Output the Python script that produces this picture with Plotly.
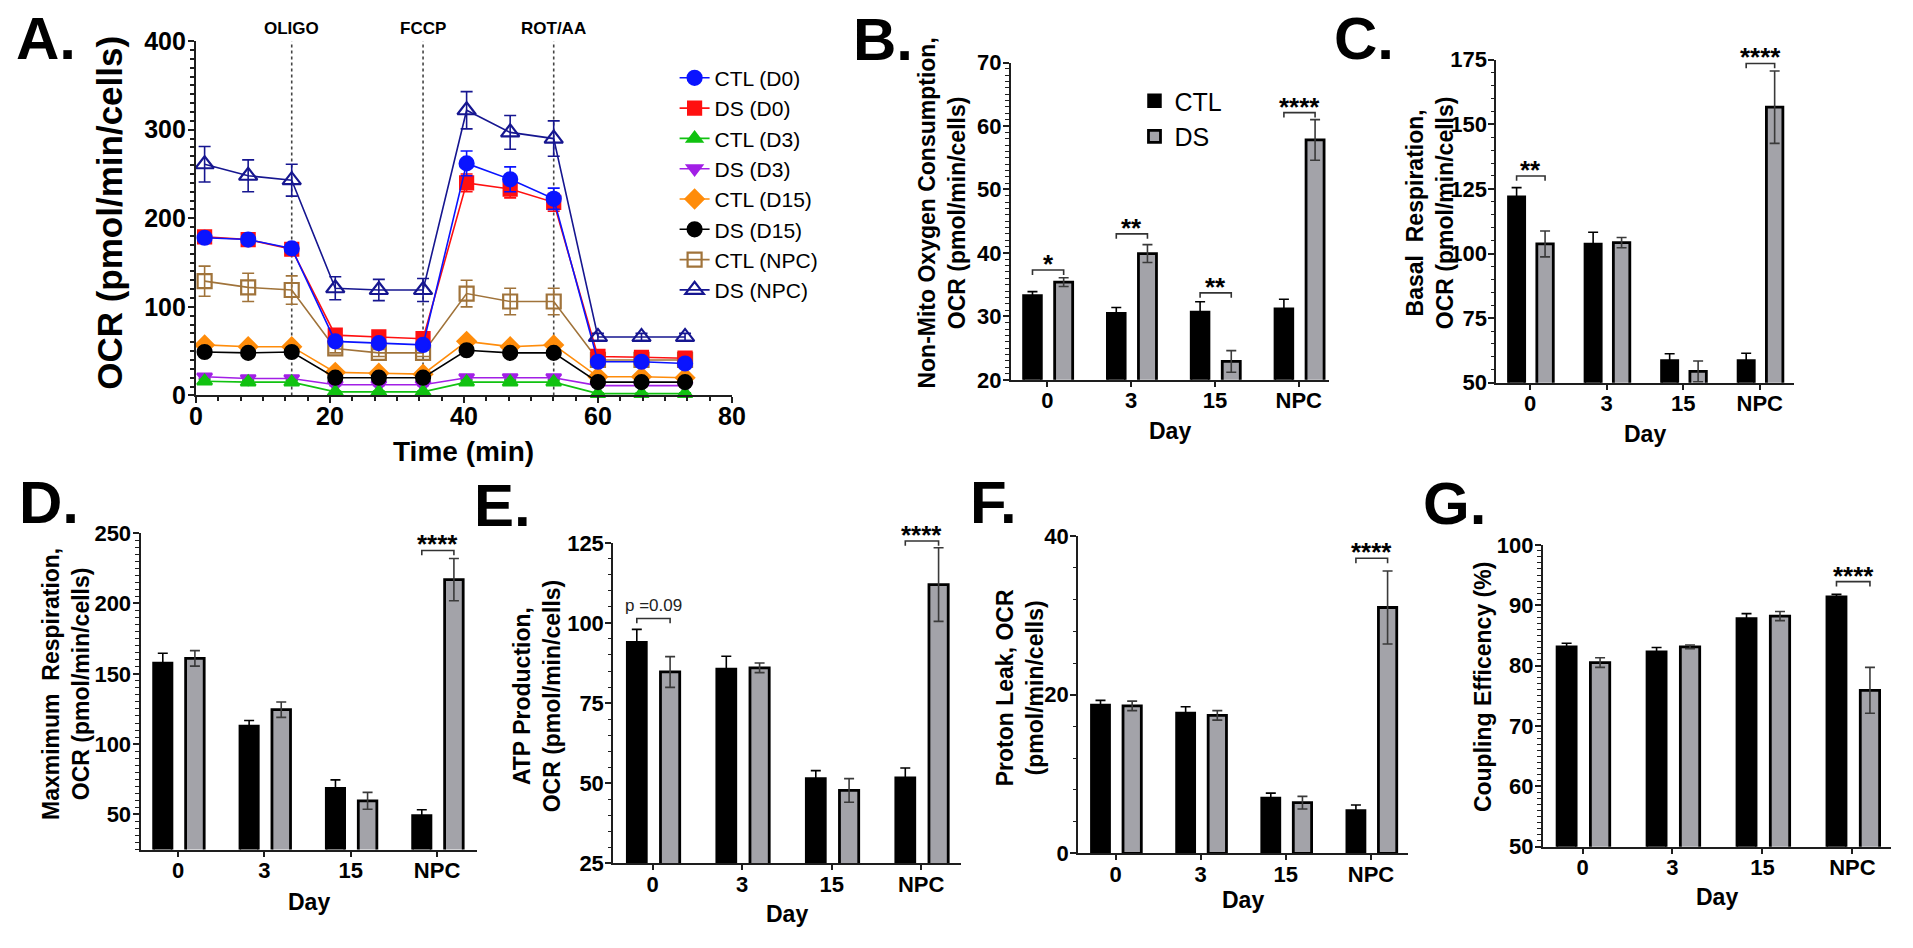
import plotly.graph_objects as go

W, H = 1913, 948
FONT = "Liberation Sans, Arial, sans-serif"

# ---------------- Panel A data (OCR time course) ----------------
time_min = [1.3, 7.8, 14.3, 20.8, 27.3, 33.9, 40.4, 46.9, 53.4, 60.0, 66.5, 73.0]
ctl_d0 = [178, 176, 166, 61, 59, 57, 262, 244, 222, 38, 38, 36]
ctl_d0_err = [4, 4, 5, 4, 3, 3, 14, 14, 12, 3, 3, 3]
ds_d0 = [179, 176, 165, 68, 66, 64, 240, 233, 218, 44, 43, 42]
ds_d0_err = [4, 4, 4, 4, 3, 3, 10, 10, 10, 3, 3, 3]
ctl_d3 = [16, 15, 15, 4, 4, 4, 15, 15, 15, 2, 2, 2]
ctl_d3_err = [2, 2, 2, 1, 1, 1, 2, 2, 2, 1, 1, 1]
ds_d3 = [21, 19, 19, 12, 12, 12, 20, 20, 20, 11, 11, 11]
ds_d3_err = [2, 2, 2, 1, 1, 1, 2, 2, 2, 1, 1, 1]
ctl_d15 = [57, 55, 55, 26, 25, 24, 61, 55, 57, 21, 21, 20]
ctl_d15_err = [3, 3, 3, 2, 2, 2, 3, 3, 3, 2, 2, 2]
ds_d15 = [49, 48, 49, 20, 20, 20, 51, 48, 48, 15, 15, 15]
ds_d15_err = [3, 3, 3, 2, 2, 2, 3, 3, 3, 2, 2, 2]
ctl_npc = [129, 122, 119, 53, 48, 48, 115, 106, 106, 40, 40, 40]
ctl_npc_err = [17, 16, 16, 5, 4, 4, 15, 15, 15, 3, 3, 3]
ds_npc = [261, 248, 243, 121, 119, 119, 322, 297, 290, 66, 66, 66]
ds_npc_err = [20, 18, 18, 13, 12, 13, 21, 19, 20, 4, 4, 4]

injection_times = [14.3, 33.9, 53.4]
injection_labels = ["OLIGO", "FCCP", "ROT/AA"]

# ---------------- Bar panel data ----------------
days = ["0", "3", "15", "NPC"]

nonmito_ctl = [33.3, 30.5, 30.7, 31.2]
nonmito_ctl_err = [0.6, 0.9, 1.6, 1.5]
nonmito_ds = [35.4, 39.9, 22.9, 57.8]
nonmito_ds_err = [0.7, 1.4, 1.7, 3.2]
nonmito_sig_idx = [0, 1, 2, 3]
nonmito_sig_text = ["*", "**", "**", "****"]
nonmito_sig_y = [37.3, 43.0, 33.7, 62.1]

basal_ctl = [122.0, 103.7, 58.6, 58.6]
basal_ctl_err = [3.5, 4.5, 2.6, 2.8]
basal_ds = [103.7, 104.2, 54.4, 156.6]
basal_ds_err = [5.0, 2.0, 4.0, 14.0]
basal_sig_idx = [0, 3]
basal_sig_text = ["**", "****"]
basal_sig_y = [130.0, 173.5]

maxresp_ctl = [157.6, 112.8, 68.6, 49.3]
maxresp_ctl_err = [7.0, 4.0, 6.0, 4.0]
maxresp_ds = [161.0, 124.5, 59.7, 217.0]
maxresp_ds_err = [5.5, 5.5, 6.0, 15.0]
maxresp_sig_idx = [3]
maxresp_sig_text = ["****"]
maxresp_sig_y = [237.7]

atp_ctl = [94.0, 85.6, 51.4, 51.7]
atp_ctl_err = [4.0, 4.0, 2.5, 3.0]
atp_ds = [84.7, 86.0, 47.7, 112.0]
atp_ds_err = [4.8, 1.5, 3.7, 11.5]
atp_sig_idx = [0, 3]
atp_sig_text = ["p =0.09", "****"]
atp_sig_y = [101.4, 125.6]

leak_ctl = [18.7, 17.7, 7.0, 5.4]
leak_ctl_err = [0.6, 0.8, 0.6, 0.7]
leak_ds = [18.6, 17.4, 6.4, 31.0]
leak_ds_err = [0.6, 0.6, 0.8, 4.6]
leak_sig_idx = [3]
leak_sig_text = ["****"]
leak_sig_y = [37.2]

coupling_ctl = [83.1, 82.3, 87.8, 91.4]
coupling_ctl_err = [0.6, 0.7, 0.8, 0.4]
coupling_ds = [80.5, 83.1, 88.2, 75.9]
coupling_ds_err = [0.8, 0.3, 0.75, 3.8]
coupling_sig_idx = [3]
coupling_sig_text = ["****"]
coupling_sig_y = [93.9]

# ---------------- helpers ----------------
def dx(x0, x1):
    return [x0 / W, x1 / W]


def dy(top, bot):
    return [1 - bot / H, 1 - top / H]


def paper_text(x, y, text, size, bold=True, angle=0, xanchor="center", yanchor="middle", color="black"):
    f = dict(family=FONT, size=size, color=color)
    if bold:
        f["weight"] = "bold"
    return dict(x=x / W, y=1 - y / H, xref="paper", yref="paper", text=text, textangle=angle,
                showarrow=False, xanchor=xanchor, yanchor=yanchor, font=f)


AXLINE = "#1e1e1e"
GRAY = "#a3a3a9"
BAR_W = 0.215
CTL_C = -0.177
DS_C = 0.195

fig = go.Figure()
annotations = []
shapes = []

# ---------------- Panel A ----------------
series = [
    ("DS (D3)", ds_d3, ds_d3_err, "#a21fe6", "triangle-down", 13, 4),
    ("CTL (D3)", ctl_d3, ctl_d3_err, "#11c211", "triangle-up", 13, 3),
    ("CTL (D15)", ctl_d15, ctl_d15_err, "#ff8c0a", "diamond", 14, 5),
    ("DS (D15)", ds_d15, ds_d15_err, "#000000", "circle", 14, 6),
    ("CTL (NPC)", ctl_npc, ctl_npc_err, "#a0733a", "square-open", 14, 7),
    ("DS (D0)", ds_d0, ds_d0_err, "#ff1010", "square", 13, 2),
    ("CTL (D0)", ctl_d0, ctl_d0_err, "#0a14ff", "circle", 14, 1),
    ("DS (NPC)", ds_npc, ds_npc_err, "#161690", "triangle-up-open", 16, 8),
]
for name, vals, errs, col, sym, size, rank in series:
    fig.add_trace(go.Scatter(
        x=time_min, y=vals, name=name, mode="lines+markers",
        line=dict(color=col, width=1.6),
        marker=dict(symbol=sym, size=size, color=col, line=dict(color=col, width=2.2)),
        error_y=dict(type="data", array=errs, color=col, thickness=1.6, width=6),
        cliponaxis=False, legend="legend", legendrank=rank,
        xaxis="x", yaxis="y",
    ))

for t, lab in zip(injection_times, injection_labels):
    shapes.append(dict(type="line", xref="x", yref="y", x0=t, x1=t, y0=0, y1=400,
                       line=dict(color="#444444", width=1.6, dash="dot"), layer="below"))
    annotations.append(dict(x=t, y=1 - 15 / H, xref="x", yref="paper", text=lab,
                            showarrow=False, xanchor="center", yanchor="middle",
                            font=dict(family=FONT, size=17, color="black", weight="bold")))

tickfont = dict(family=FONT, size=22, color="black", weight="bold")
tickfont_a = dict(family=FONT, size=25, color="black", weight="bold")
axis_common = dict(showline=True, linewidth=2, linecolor=AXLINE, showgrid=False,
                   zeroline=False, ticks="outside", tickcolor=AXLINE, tickwidth=2)

layout_axes = {}
layout_axes["xaxis"] = dict(domain=dx(191, 733), range=[0, 80], dtick=20, tick0=0,
                            ticklen=6, anchor="y", ticklabelstandoff=-8, tickfont=tickfont_a,
                            minor=dict(dtick=20 / 6, ticklen=4, tickcolor=AXLINE, ticks="outside", tickwidth=1.5),
                            **axis_common)
layout_axes["yaxis"] = dict(domain=dy(28, 393), range=[0, 400], dtick=100, tick0=0,
                            ticklen=6, anchor="x", ticklabelstandoff=-3, tickfont=tickfont_a,
                            minor=dict(dtick=10, ticklen=4, tickcolor=AXLINE, ticks="outside", tickwidth=1.5),
                            **axis_common)

annotations.append(paper_text(104, 205, "OCR (pmol/min/cells)", 35, angle=-90))
annotations.append(paper_text(462, 451, "Time (min)", 28))

# ---------------- Bar panels ----------------
panels = [
    dict(n=2, box=(1015, 1337, 50, 377), yr=[20, 70], dt=10, mn=1, xr=[-0.435, 3.365],
         ctl=nonmito_ctl, ctle=nonmito_ctl_err, ds=nonmito_ds, dse=nonmito_ds_err,
         si=nonmito_sig_idx, st=nonmito_sig_text, sy=nonmito_sig_y,
         title="Non-Mito Oxygen Consumption,<br>OCR (pmol/min/cells)", tc=(945, 205), dayy=430, leg=True),
    dict(n=3, box=(1506, 1807, 47, 380), yr=[50, 175], dt=25, mn=5, xr=[-0.44, 3.45],
         ctl=basal_ctl, ctle=basal_ctl_err, ds=basal_ds, dse=basal_ds_err,
         si=basal_sig_idx, st=basal_sig_text, sy=basal_sig_y,
         title="Basal  Respiration,<br>OCR (pmol/min/cells)", tc=(1439, 205), dayy=433, leg=False),
    dict(n=4, box=(135, 475, 535, 861), yr=[25, 250], dt=50, mn=5, xr=[-0.435, 3.46],
         ctl=maxresp_ctl, ctle=maxresp_ctl_err, ds=maxresp_ds, dse=maxresp_ds_err,
         si=maxresp_sig_idx, st=maxresp_sig_text, sy=maxresp_sig_y,
         title="Maxmimum  Respiration,<br>OCR (pmol/min/cells)", tc=(59, 690), dayy=915, leg=False),
    dict(n=5, box=(613, 965, 545, 875), yr=[25, 125], dt=25, mn=5, xr=[-0.44, 3.45],
         ctl=atp_ctl, ctle=atp_ctl_err, ds=atp_ds, dse=atp_ds_err,
         si=atp_sig_idx, st=atp_sig_text, sy=atp_sig_y,
         title="ATP Production,<br>OCR (pmol/min/cells)", tc=(536, 703), dayy=927, leg=False),
    dict(n=6, box=(1083, 1417, 538, 865), yr=[0, 40], dt=20, mn=4, xr=[-0.44, 3.44],
         ctl=leak_ctl, ctle=leak_ctl_err, ds=leak_ds, dse=leak_ds_err,
         si=leak_sig_idx, st=leak_sig_text, sy=leak_sig_y,
         title="Proton Leak, OCR<br>(pmol/min/cells)", tc=(1024, 694), dayy=913, leg=False),
    dict(n=7, box=(1553, 1905, 547, 858), yr=[50, 100], dt=10, mn=1, xr=[-0.44, 3.43],
         ctl=coupling_ctl, ctle=coupling_ctl_err, ds=coupling_ds, dse=coupling_ds_err,
         si=coupling_sig_idx, st=coupling_sig_text, sy=coupling_sig_y,
         title="Coupling Efficency (%)", tc=(1492, 694), dayy=910, leg=False),
]

x_idx = list(range(len(days)))

for p in panels:
    n = p["n"]
    xa, ya = f"x{n}", f"y{n}"
    x0, x1, top, bot = p["box"]
    fig.add_trace(go.Bar(
        x=x_idx, y=p["ctl"], width=BAR_W, offset=CTL_C - BAR_W / 2, name="CTL",
        marker=dict(color="black", line=dict(color="black", width=2.5)),
        error_y=dict(type="data", array=p["ctle"], color="black", thickness=1.6, width=5),
        xaxis=xa, yaxis=ya, showlegend=p["leg"], legend="legend2"))
    fig.add_trace(go.Bar(
        x=x_idx, y=p["ds"], width=BAR_W, offset=DS_C - BAR_W / 2, name="DS",
        marker=dict(color=GRAY, line=dict(color="black", width=2.8)),
        error_y=dict(type="data", array=p["dse"], color="#3a3a3a", thickness=1.6, width=5),
        xaxis=xa, yaxis=ya, showlegend=p["leg"], legend="legend2"))

    layout_axes[f"xaxis{n}"] = dict(domain=dx(x0, x1), range=p["xr"], tickvals=x_idx,
                                    ticktext=days, ticklen=5, anchor=ya, tickfont=tickfont,
                                    ticklabelstandoff=-5, **axis_common)
    layout_axes[f"yaxis{n}"] = dict(domain=dy(top, bot), range=p["yr"], dtick=p["dt"], tick0=0,
                                    ticklen=6, anchor=xa, tickfont=tickfont, ticklabelstandoff=-3,
                                    minor=dict(dtick=p["mn"], ticklen=3.5, tickcolor=AXLINE,
                                               ticks="outside", tickwidth=1.2),
                                    **axis_common)

    # significance brackets (y given in data units, converted to the axis domain so they are not clipped)
    r0, r1 = p["yr"]
    leg_dom = 5 / (bot - top)
    for i, txt, yv in zip(p["si"], p["st"], p["sy"]):
        yd = (yv - r0) / (r1 - r0)
        xl, xr_ = i + CTL_C, i + DS_C
        shapes.append(dict(type="path", xref=xa, yref=f"{ya} domain",
                           path=f"M {xl},{yd - leg_dom} L {xl},{yd} L {xr_},{yd} L {xr_},{yd - leg_dom}",
                           line=dict(color="#333333", width=1.6)))
        if txt.startswith("*"):
            annotations.append(dict(x=i + (CTL_C + DS_C) / 2, y=yd, xref=xa, yref=f"{ya} domain", text=txt,
                                    showarrow=False, xanchor="center", yanchor="bottom", yshift=-11,
                                    font=dict(family=FONT, size=26, color="black", weight="bold")))
        else:
            annotations.append(dict(x=i + (CTL_C + DS_C) / 2, y=yd, xref=xa, yref=f"{ya} domain", text=txt,
                                    showarrow=False, xanchor="center", yanchor="bottom", yshift=1,
                                    font=dict(family=FONT, size=17, color="#222222")))

    annotations.append(paper_text(p["tc"][0], p["tc"][1], p["title"], 23, angle=-90))
    annotations.append(paper_text((x0 + x1) / 2, p["dayy"], "Day", 23))

# ---------------- panel letters ----------------
letters = [("A.", 7, 25), ("B.", 853, 26), ("C.", 1340, 25), ("D.", 10, 503),
           ("E.", 470, 506), ("F.", 972, 503), ("G.", 1430, 504)]
for lab, lx, ly in letters:
    annotations.append(paper_text(lx, ly, lab, 60, xanchor="left", yanchor="middle"))

fig.update_layout(
    width=W, height=H, margin=dict(l=0, r=0, t=0, b=0),
    paper_bgcolor="white", plot_bgcolor="white",
    barmode="overlay",
    showlegend=True,
    legend=dict(x=675 / W, y=1 - 45 / H, xanchor="left", yanchor="top",
                font=dict(family=FONT, size=21, color="black"), bgcolor="rgba(0,0,0,0)",
                tracegroupgap=0, traceorder="normal"),
    legend2=dict(x=1140 / W, y=1 - 66 / H, xanchor="left", yanchor="top",
                 font=dict(family=FONT, size=25, color="black"), bgcolor="rgba(0,0,0,0)"),
    annotations=annotations, shapes=shapes,
    **layout_axes,
)

fig.write_html("out.html", config={"displayModeBar": False},
               post_script="document.body.style.margin='0';document.body.style.overflow='hidden';")
